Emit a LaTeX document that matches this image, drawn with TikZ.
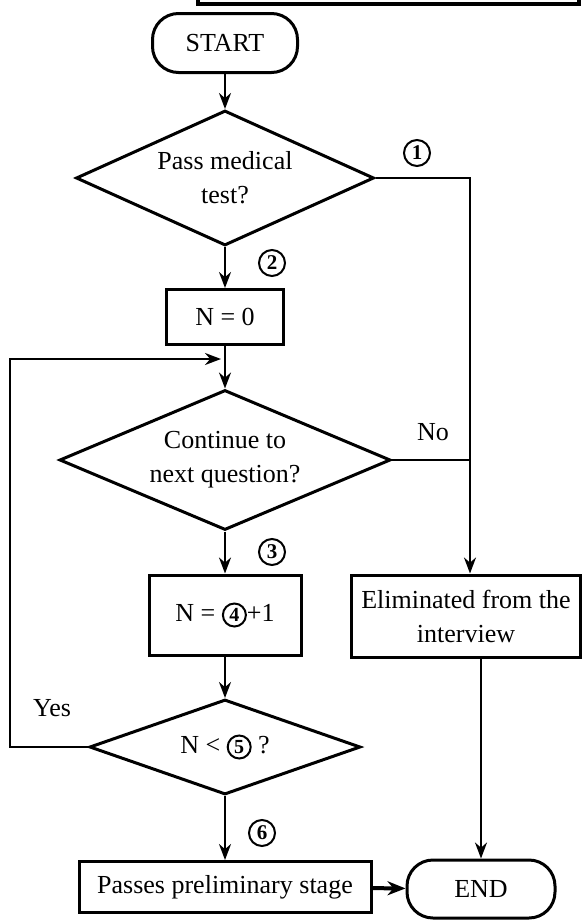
\documentclass[tikz,border=0pt]{standalone}
\usepackage{fontspec}
\setmainfont{Liberation Serif}
\usetikzlibrary{arrows.meta,shapes.geometric}
\newcommand{\cnum}[1]{\tikz[baseline=(cnx.base)]\node[circle,draw,line width=1pt,inner sep=0pt,minimum size=11.5pt,font=\fontsize{10}{10}\selectfont\bfseries](cnx){#1};}
\tikzset{
  base/.style={draw,line width=1.5pt,inner sep=0pt,align=center,font=\fontsize{13}{17}\selectfont},
  term/.style={base,rectangle,rounded corners=13pt},
  proc/.style={base,rectangle},
  dec/.style={base,diamond},
  conn/.style={line width=1.2pt,-{Stealth[length=8pt,width=6pt]}},
  plain/.style={line width=1.2pt},
  cnumnode/.style={circle,draw,line width=1pt,inner sep=0pt,minimum size=13pt,font=\fontsize{10.5}{10.5}\selectfont\bfseries},
  lbl/.style={font=\fontsize{13}{14}\selectfont}
}
\begin{document}
\begin{tikzpicture}[x=0.5pt,y=-0.5pt]
\useasboundingbox (0,0) rectangle (588,921);
% partial box at the top edge
\draw[line width=1.6pt] (198,0) -- (198,4) -- (579,4) -- (579,0);

\node[term,minimum width=72.5pt,minimum height=29.5pt] (start) at (225,43) {START};
\node[dec,minimum width=149pt,minimum height=67.5pt,aspect=2.2] (d1) at (225,178) {Pass medical\\test?};
\node[proc,minimum width=58.5pt,minimum height=27.5pt] (n0) at (225,317) {N = 0};
\node[dec,minimum width=165.5pt,minimum height=70pt,aspect=2.36] (d2) at (225,460) {Continue to\\next question?};
\node[proc,minimum width=76pt,minimum height=40pt] (n1) at (225,615) {N = \cnum{4}+1};
\node[proc,minimum width=114.5pt,minimum height=41pt] (elim) at (466,616) {Eliminated from the\\interview};
\node[dec,minimum width=135.5pt,minimum height=47.5pt,aspect=2.85] (d3) at (225,747) {N < \cnum{5} ?};
\node[proc,minimum width=146pt,minimum height=25.5pt] (pass) at (225,887) {Passes preliminary stage};
\node[term,minimum width=74pt,minimum height=29pt] (end) at (481,889) {END};

\node[cnumnode] (c1) at (417,153) {1};
\node[cnumnode] (c2) at (272,263) {2};
\node[cnumnode] (c3) at (272,552) {3};
\node[cnumnode] (c6) at (262,833) {6};
\node[lbl] (no) at (433,432) {No};
\node[lbl] (yes) at (52,708) {Yes};

\coordinate (rj) at (470,460);
\coordinate (rtop) at (d1.east -| rj);
\coordinate (lp) at (221,359);
\coordinate (lc1) at (10,747);
\coordinate (lc2) at (10,359);

\draw[conn] (start) -- (d1);
\draw[conn] (d1) -- (n0);
\draw[conn] (n0) -- (d2);
\draw[conn] (d2) -- (n1);
\draw[conn] (n1) -- (d3);
\draw[conn] (d3) -- (pass);
\draw[conn] (d1.east) -- (rtop) -- (rj |- elim.north);
\draw[plain] (d2.east) -- (rj);
\draw[conn] (d3.west) -- (lc1) -- (lc2) -- (lp);
\draw[conn] (end.north |- elim.south) -- (end.north);
\draw[line width=2pt,-{Stealth[length=9pt,width=7pt]}] (pass) -- (end);
\end{tikzpicture}
\end{document}
